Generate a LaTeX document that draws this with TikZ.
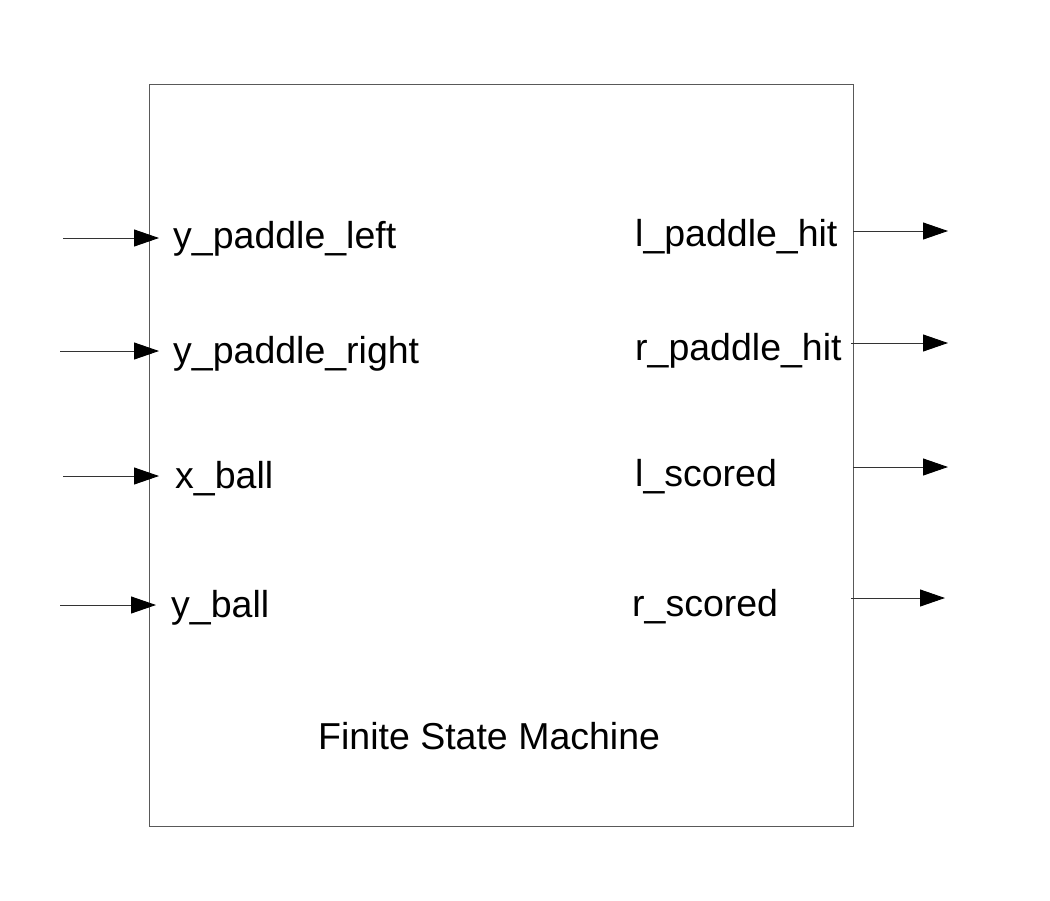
\documentclass[tikz,border=0pt]{standalone}
\usepackage{fontspec}
\setmainfont{Liberation Sans}
\usetikzlibrary{arrows.meta}
\begin{document}
\begin{tikzpicture}[x=1pt,y=-1pt,
  lbl/.style={anchor=base west,inner sep=0pt,font=\fontsize{37.5}{45}\selectfont},
  sig/.style={draw=black!80,line width=0.9pt,-{Triangle[length=25pt,width=17pt,color=black]}}]
\useasboundingbox (0,0) rectangle (1050,900);
\node[draw=black!65,line width=1pt,minimum width=704pt,minimum height=742pt,inner sep=0pt,anchor=north west] (fsm) at (149,84) {};
\node[lbl] (ipl) at (173,248) {y\_paddle\_left};
\node[lbl] (ipr) at (173,363) {y\_paddle\_right};
\node[lbl] (ixb) at (175,488) {x\_ball};
\node[lbl] (iyb) at (171,617) {y\_ball};
\node[lbl] (olh) at (635,246) {l\_paddle\_hit};
\node[lbl] (orh) at (635,360) {r\_paddle\_hit};
\node[lbl] (ols) at (635,486) {l\_scored};
\node[lbl] (ors) at (632,616) {r\_scored};
\node[lbl] (title) at (318,749) {Finite State Machine};
\coordinate (a1) at (63,238); \coordinate (b1) at (159,238);
\coordinate (a2) at (60,351); \coordinate (b2) at (159,351);
\coordinate (a3) at (63,476); \coordinate (b3) at (159,476);
\coordinate (a4) at (60,605); \coordinate (b4) at (156,605);
\coordinate (c1) at (853,231); \coordinate (d1) at (948,231);
\coordinate (c2) at (851,343); \coordinate (d2) at (948,343);
\coordinate (c3) at (853,467); \coordinate (d3) at (948,467);
\coordinate (c4) at (851,598); \coordinate (d4) at (945,598);
\foreach \i in {1,2,3,4} {
  \draw[sig] (a\i) -- (b\i);
  \draw[sig] (c\i) -- (d\i);
}
\end{tikzpicture}
\end{document}
